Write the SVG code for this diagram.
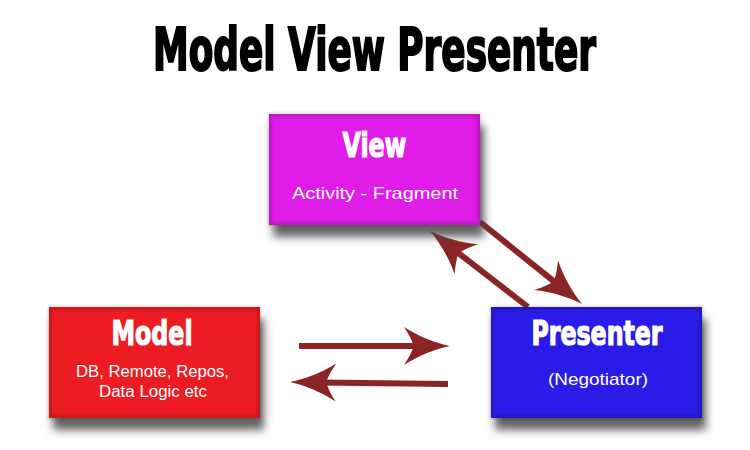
<svg xmlns="http://www.w3.org/2000/svg" width="750" height="450" viewBox="0 0 750 450">
  <defs>
    <filter id="shadow" x="-10%" y="-10%" width="125%" height="140%">
      <feDropShadow dx="4" dy="12" stdDeviation="4" flood-color="#4a4a4a" flood-opacity="0.85"/>
    </filter>
    <filter id="soft" x="-5%" y="-5%" width="110%" height="110%">
      <feGaussianBlur stdDeviation="1.5"/>
    </filter>
    <marker id="head" markerUnits="userSpaceOnUse" markerWidth="80" markerHeight="60" refX="0" refY="0" orient="auto" overflow="visible">
      <path d="M30,0 C15,-3 -2,-10 -16,-19 C-10,-10 -8,-5 -6,0 C-8,5 -10,10 -16,19 C-2,10 15,3 30,0 Z" fill="#8B2525"/>
    </marker>
    <style>
      .box { filter: url(#shadow); }
      .edge { fill: none; stroke: #000; stroke-opacity: 0.18; stroke-width: 4; filter: url(#soft); }
      .head { font-family: "Liberation Sans Narrow", "DejaVu Sans Condensed", sans-serif; font-weight: bold; fill: #fff; stroke: #fff; stroke-width: 1.2; text-anchor: middle; }
      .sub { font-family: "Liberation Sans", Arial, sans-serif; fill: #fff; text-anchor: middle; }
      .title { font-family: "Liberation Sans Narrow", "DejaVu Sans Condensed", sans-serif; font-weight: bold; fill: #000; stroke: #000; stroke-width: 2; text-anchor: middle; }
      .conn { fill: none; stroke: #8B2525; stroke-width: 6; marker-end: url(#head); }
    </style>
  </defs>
  <rect width="750" height="450" fill="#fff"/>

  <text class="title" x="374.5" y="70" font-size="58" textLength="443" lengthAdjust="spacingAndGlyphs">Model View Presenter</text>

  <g id="connectors">
    <path class="conn" d="M480,222 L558.6,285.2"/>
    <path class="conn" d="M528,307 L453.7,249.4"/>
    <path class="conn" d="M299,346 L420,346"/>
    <path class="conn" d="M448,384 L320,382.4"/>
  </g>

  <g id="view">
    <rect class="box" x="269" y="114" width="211" height="111" fill="#E01EE8"/>
    <rect class="edge" x="270" y="115" width="209" height="109"/>
    <text class="head" x="374.5" y="157" font-size="34" textLength="64" lengthAdjust="spacingAndGlyphs">View</text>
    <text class="sub" x="375" y="199" font-size="17" textLength="166" lengthAdjust="spacingAndGlyphs">Activity - Fragment</text>
  </g>

  <g id="model">
    <rect class="box" x="49" y="307" width="211" height="111" fill="#ED1C24"/>
    <rect class="edge" x="50" y="308" width="209" height="109"/>
    <text class="head" x="152" y="345" font-size="34" textLength="81" lengthAdjust="spacingAndGlyphs">Model</text>
    <text class="sub" x="152.5" y="377" font-size="16" textLength="153" lengthAdjust="spacingAndGlyphs">DB, Remote, Repos,</text>
    <text class="sub" x="153" y="397" font-size="16" textLength="108" lengthAdjust="spacingAndGlyphs">Data Logic etc</text>
  </g>

  <g id="presenter">
    <rect class="box" x="491" y="307" width="211" height="111" fill="#2B1AE8"/>
    <rect class="edge" x="492" y="308" width="209" height="109"/>
    <text class="head" x="597" y="345" font-size="34" textLength="131" lengthAdjust="spacingAndGlyphs">Presenter</text>
    <text class="sub" x="598" y="385" font-size="17" textLength="100" lengthAdjust="spacingAndGlyphs">(Negotiator)</text>
  </g>
</svg>
